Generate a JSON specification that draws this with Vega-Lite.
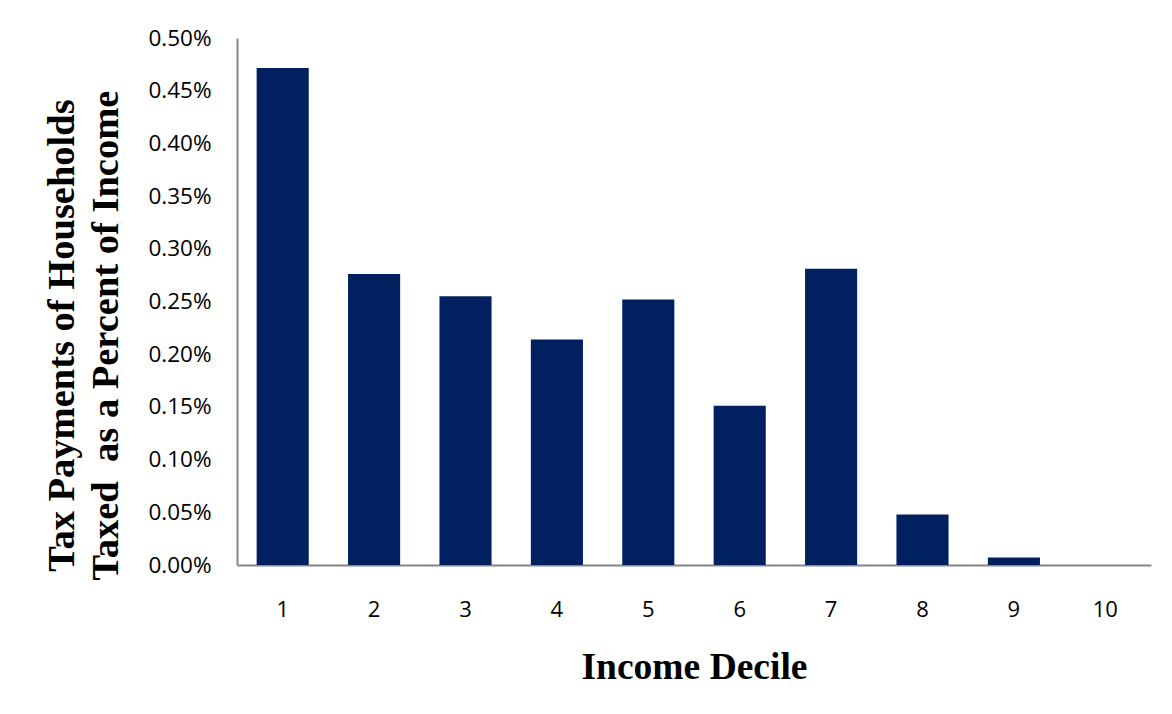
{
  "$schema": "https://vega.github.io/schema/vega-lite/v6.json",
  "autosize": {"type": "none"},
  "width": 914,
  "height": 527,
  "padding": {"left": 237, "top": 38, "right": 21, "bottom": 149},
  "background": "white",
  "config": {"view": {"stroke": null}},
  "data": {
    "values": [
      {"decile": "1", "share": 0.004715},
      {"decile": "2", "share": 0.00276},
      {"decile": "3", "share": 0.00255},
      {"decile": "4", "share": 0.00214},
      {"decile": "5", "share": 0.00252},
      {"decile": "6", "share": 0.00151},
      {"decile": "7", "share": 0.00281},
      {"decile": "8", "share": 0.00048},
      {"decile": "9", "share": 0.00007},
      {"decile": "10", "share": 0}
    ]
  },
  "mark": {"type": "bar", "color": "#002060"},
  "encoding": {
    "x": {
      "field": "decile",
      "type": "ordinal",
      "sort": null,
      "scale": {"paddingInner": 0.43, "paddingOuter": 0.215},
      "axis": {
        "title": "Income Decile",
        "titleFont": "Liberation Serif",
        "titleFontSize": 37.5,
        "titleFontWeight": "bold",
        "titleColor": "black",
        "titleBaseline": "alphabetic",
        "titleY": 113,
        "labelAngle": 0,
        "labelFont": "Open Sans",
        "labelFontSize": 22,
        "labelColor": "black",
        "labelPadding": 34,
        "ticks": false,
        "domainColor": "#868686",
        "domainWidth": 2
      }
    },
    "y": {
      "field": "share",
      "type": "quantitative",
      "scale": {"domain": [0, 0.005], "nice": false},
      "axis": {
        "title": ["Tax Payments of Households", "Taxed \u00a0as a Percent of Income"],
        "titleFont": "Liberation Serif",
        "titleFontSize": 38.5,
        "titleFontWeight": "bold",
        "titleColor": "black",
        "titleBaseline": "alphabetic",
        "titleAlign": "center",
        "titleAngle": -90,
        "titleLineHeight": 44,
        "titleX": -164,
        "titleY": 297,
        "format": ".2%",
        "values": [0, 0.0005, 0.001, 0.0015, 0.002, 0.0025, 0.003, 0.0035, 0.004, 0.0045, 0.005],
        "labelFont": "Open Sans",
        "labelFontSize": 22.5,
        "labelColor": "black",
        "labelPadding": 26,
        "ticks": false,
        "grid": false,
        "domainColor": "#868686",
        "domainWidth": 2
      }
    }
  }
}
